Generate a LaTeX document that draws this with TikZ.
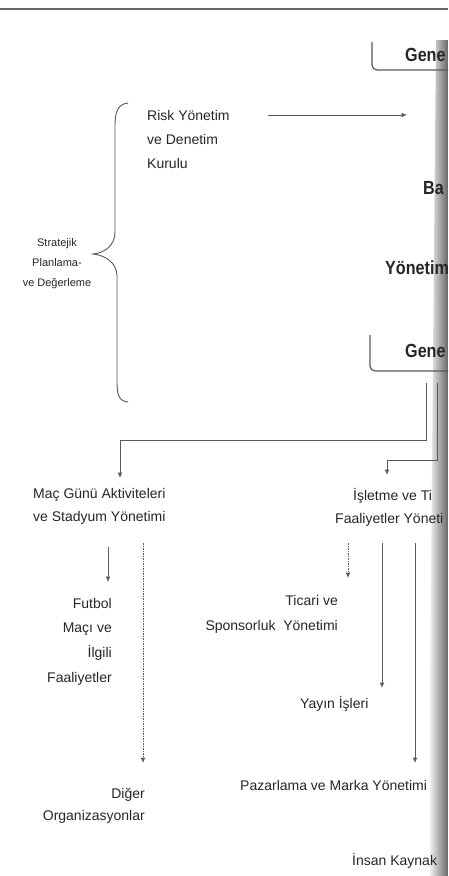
\documentclass[tikz,border=0pt]{standalone}
\usepackage{fontspec}
\setmainfont{Liberation Sans}
\newfontfamily\condbold[FakeStretch=0.85]{Liberation Sans}
\usetikzlibrary{arrows.meta}
\newcommand\TopR{\rule{0pt}{13pt}}
\newcommand\TopS{\rule{0pt}{10pt}}
\begin{document}
\begin{tikzpicture}[x=1pt,y=-1pt,
  txt/.style={inner sep=0pt, text=black!85, font=\fontsize{14}{24}\selectfont},
  small/.style={inner sep=0pt, text=black!85, font=\fontsize{11}{20}\selectfont},
  bold/.style={inner sep=0pt, text=black!85, font=\condbold\bfseries\fontsize{19}{22}\selectfont},
  conn/.style={draw=black!65, line width=1pt},
  arr/.style={conn, -{Latex[length=5.5pt,width=5pt]}},
  dotline/.style={dash pattern=on 1.5pt off 1pt},
  boxline/.style={draw=black!65, line width=1.2pt, rounded corners=5pt},
]
\useasboundingbox (0,0) rectangle (448,876);
\fill[white] (0,0) rectangle (448,876);
\clip (0,0) rectangle (448,876);
% gutter shadow of the scanned page
\shade[left color=white, right color=black!60] (436,40) -- (448,40) -- (448,876) -- (428,876) -- cycle;
% page rule
\draw[black!60, line width=1.1pt] (0,9) -- (448,9);

% right column (cut at the page edge)
\node[bold, anchor=west] (genA) at (405,55) {Gene};
\draw[boxline] (372,42) -- (372,70) -- (452,70);
\node[bold, anchor=west] (bas) at (423,188) {Ba};
\node[bold, anchor=west] (yon) at (385,268) {Yönetim};
\node[bold, anchor=west] (genB) at (405,351) {Gene};
\draw[boxline] (370,335) -- (370,371) -- (452,371);

% risk board and arrow
\node[txt, anchor=north west, align=left] (risk) at (147,107) {\TopR Risk Yönetim\\ve Denetim\\Kurulu};
\coordinate (riskA) at (268,115);
\coordinate (riskB) at (407,115);
\draw[arr] (riskA) -- (riskB);

% brace and strategic planning
\node[small, anchor=north, align=center] (strat) at (57,236) {\TopS Stratejik\\Planlama-\\ve Değerleme};
\draw[conn, line width=0.9pt] (128,103) .. controls (118,104) and (115,112) .. (115,125) -- (115,232)
  .. controls (115,246) and (104,253) .. (93,254) .. controls (104,255) and (117,262) .. (117,276)
  -- (117,382) .. controls (117,395) and (119,401) .. (128,402);

% connectors from the general manager box
\coordinate (gb1) at (426,383);
\coordinate (gb2) at (437,383);
\coordinate (j1) at (120,440);
\coordinate (j2) at (387,460);
\coordinate (macIn) at (120,478);
\coordinate (islIn) at (387,475);
\draw[arr] (gb1) |- (j1) -- (macIn);
\draw[arr] (gb2) |- (j2) -- (islIn);

% match day branch
\node[txt, anchor=north west, align=left, font=\fontsize{14}{23}\selectfont] (mac) at (33,485) {\TopR Maç Günü Aktiviteleri\\ve Stadyum Yönetimi};
\node[txt, anchor=north east, align=right, font=\fontsize{14}{24.7}\selectfont] (futbol) at (112,595) {\TopR Futbol\\Maçı ve\\İlgili\\Faaliyetler};
\node[txt, anchor=north east, align=right, font=\fontsize{14}{22}\selectfont] (diger) at (145,785) {\TopR Diğer\\Organizasyonlar};
\coordinate (m1) at (108,547);
\coordinate (m1e) at (108,582);
\coordinate (m2) at (143,543);
\coordinate (m2e) at (143,763);
\draw[arr] (m1) -- (m1e);
\draw[arr, dotline] (m2) -- (m2e);

% business branch
\node[txt, anchor=base west] (isl1) at (353,500) {İşletme ve Ti};
\node[txt, anchor=base west] (isl2) at (335,523) {Faaliyetler Yöneti};
\node[txt, anchor=north east, align=right, font=\fontsize{14}{25}\selectfont] (ticari) at (338,592) {\TopR Ticari ve\\Sponsorluk\ \ Yönetimi};
\node[txt, anchor=base west] (yayin) at (300,708) {Yayın İşleri};
\node[txt, anchor=base west] (paz) at (240,790) {Pazarlama ve Marka Yönetimi};
\node[txt, anchor=base west] (insan) at (352,865) {İnsan Kaynak};
\coordinate (i1) at (348,543);
\coordinate (i1e) at (348,578);
\coordinate (i2) at (382,543);
\coordinate (i2e) at (382,688);
\coordinate (i3) at (415,543);
\coordinate (i3e) at (415,763);
\draw[arr, dotline] (i1) -- (i1e);
\draw[arr] (i2) -- (i2e);
\draw[arr] (i3) -- (i3e);
\end{tikzpicture}
\end{document}
